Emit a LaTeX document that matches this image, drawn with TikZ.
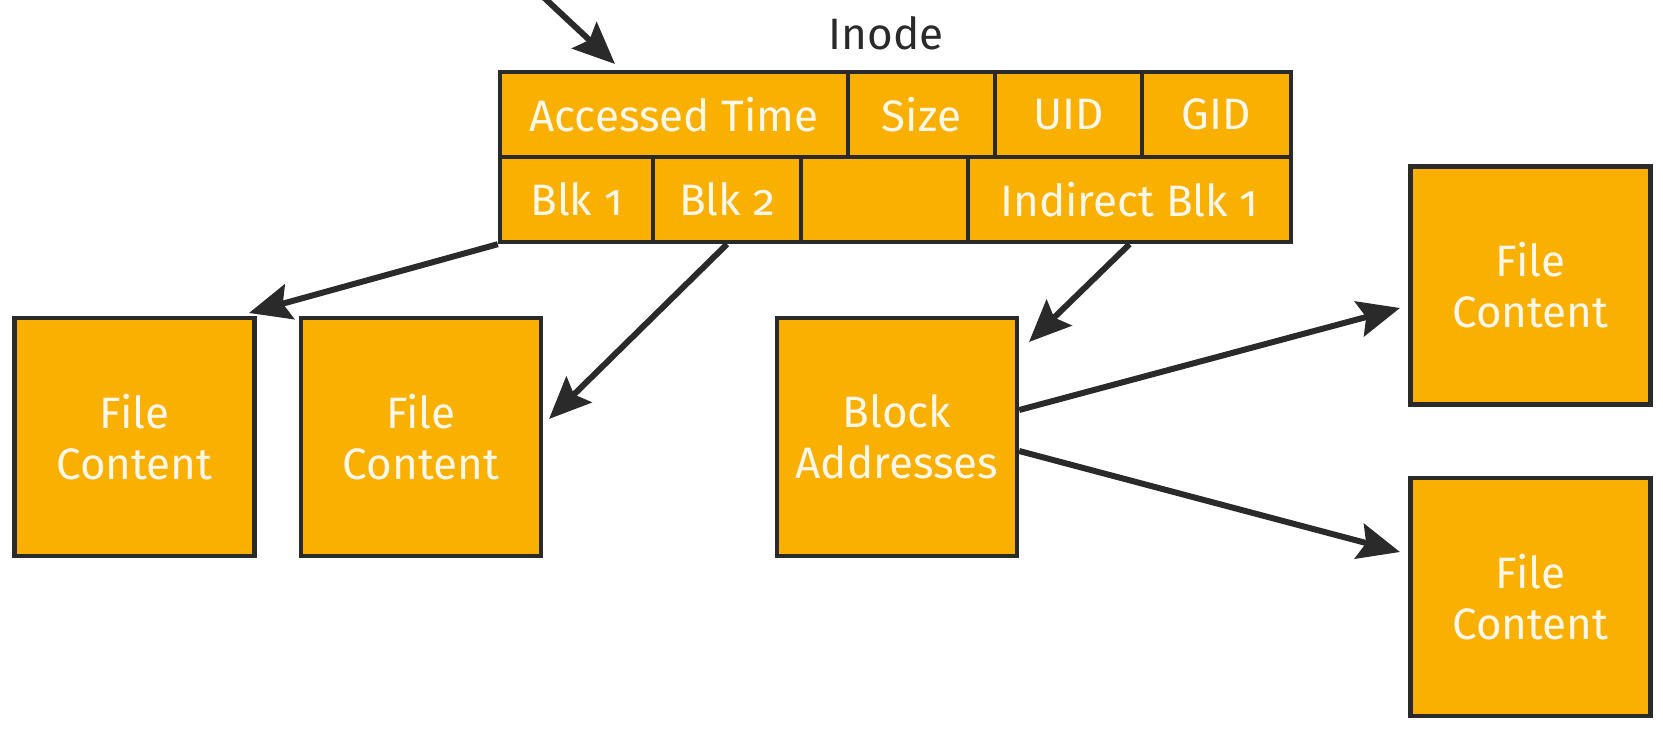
\documentclass[tikz,border=0pt]{standalone}
\usepackage{fontspec}
\setmainfont{Fira Sans}[Numbers=OldStyle]
\usetikzlibrary{arrows.meta}
\definecolor{blockfill}{HTML}{F9B000}
\definecolor{ink}{HTML}{2A2A2A}
\definecolor{paper}{HTML}{FFF8EA}
\begin{document}
\begin{tikzpicture}[x=0.5pt,y=-0.5pt,
  txt/.style={font=\fontsize{22}{25.5}\selectfont},
  cell/.style={draw=ink, line width=2.2pt, fill=blockfill, text=paper, txt,
    inner sep=0pt, minimum height=42.5pt},
  block/.style={draw=ink, line width=2.2pt, fill=blockfill, text=paper, txt,
    align=center, inner sep=0pt, minimum width=120pt, minimum height=119pt},
  link/.style={draw=ink, line width=3pt,
    -{Stealth[length=21pt, width=18pt, inset=3.5pt]}}]
\useasboundingbox (0,0) rectangle (1663,731);

% inode record, first row
\node[cell, minimum width=174pt]  (atime) at (674,114.5)    {Accessed Time};
\node[cell, minimum width=73.5pt] (size)  at (921.5,114.5)  {Size};
\node[cell, minimum width=73.5pt] (uid)   at (1068.5,114.5) {UID};
\node[cell, minimum width=74.5pt] (gid)   at (1216.5,114.5) {GID};
% inode record, second row
\node[cell, minimum width=76.5pt] (blk1)  at (576.5,199.5)  {Blk 1};
\node[cell, minimum width=74pt]   (blk2)  at (727,199.5)    {Blk 2};
\node[cell, minimum width=83.5pt] (spare) at (884.5,199.5)  {};
\node[cell, minimum width=161.5pt] (ind)  at (1129.5,199.5) {Indirect Blk 1};

\node[txt, text=ink] (title) at (886,33) {Inode};

% data blocks
\node[block] (fc1) at (134.5,437)  {File\\Content};
\node[block] (fc2) at (421,437)    {File\\Content};
\node[block] (ba)  at (897,437)    {Block\\Addresses};
\node[block] (fc3) at (1530.5,285.5) {File\\Content};
\node[block] (fc4) at (1530.5,597)   {File\\Content};

% pointers
\coordinate (src) at (538,-8);
\coordinate (t0) at (615,64);
\coordinate (t1) at (249,313);
\coordinate (t2) at (549,419);
\coordinate (t3) at (1029,342);
\coordinate (t4) at (1400,308);
\coordinate (t5) at (1400,552);

\draw[link] (src) -- (t0);
\draw[link] (blk1.south west) -- (t1);
\draw[link] (blk2.south) -- (t2);
\draw[link] (ind.south) -- (t3);
\draw[link] ([yshift=13.5pt]ba.east) -- (t4);
\draw[link] ([yshift=-7pt]ba.east) -- (t5);
\end{tikzpicture}
\end{document}
